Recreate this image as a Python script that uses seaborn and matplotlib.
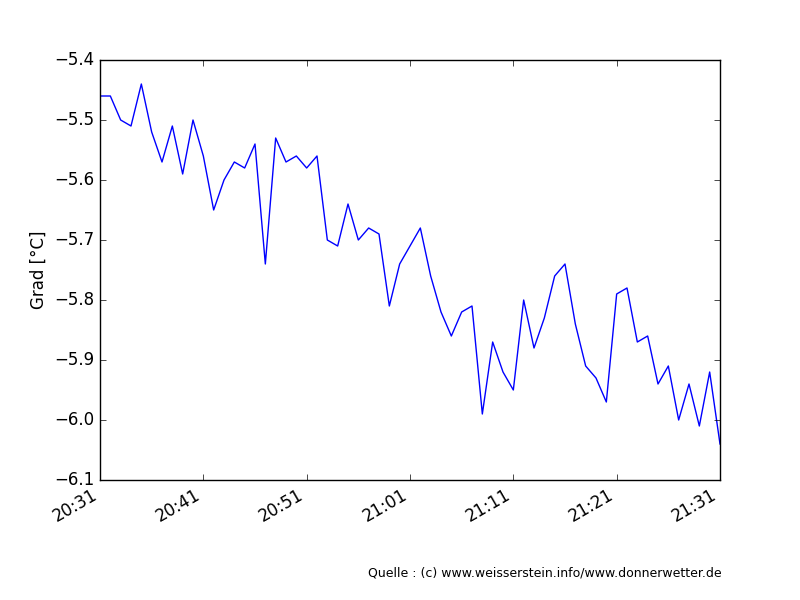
import matplotlib

matplotlib.use("Agg")
import matplotlib.dates as mdates
import matplotlib.pyplot as plt
import matplotlib.ticker as mticker
import pandas as pd
import seaborn as sns

# one reading per minute, 20:31 .. 21:31
start_time = "2015-01-20 20:31"
temperatures = [
    -5.46, -5.46, -5.50, -5.51, -5.44, -5.52, -5.57, -5.51, -5.59, -5.50,
    -5.56, -5.65, -5.60, -5.57, -5.58, -5.54, -5.74, -5.53, -5.57, -5.56,
    -5.58, -5.56, -5.70, -5.71, -5.64, -5.70, -5.68, -5.69, -5.81, -5.74,
    -5.71, -5.68, -5.76, -5.82, -5.86, -5.82, -5.81, -5.99, -5.87, -5.92,
    -5.95, -5.80, -5.88, -5.83, -5.76, -5.74, -5.84, -5.91, -5.93, -5.97,
    -5.79, -5.78, -5.87, -5.86, -5.94, -5.91, -6.00, -5.94, -6.01, -5.92,
    -6.04,
]
y_ticks = [-6.1, -6.0, -5.9, -5.8, -5.7, -5.6, -5.5, -5.4]
source_text = "Quelle : (c) www.weisserstein.info/www.donnerwetter.de"

times = pd.date_range(start_time, periods=len(temperatures), freq="min")
df = pd.DataFrame({"zeit": times, "temp": temperatures})

plt.style.use("classic")
fig, ax = plt.subplots(figsize=(8, 6), dpi=100)
fig.patch.set_facecolor("white")

sns.lineplot(data=df, x="zeit", y="temp", ax=ax, color="b", linewidth=1.0)

ax.set_xlim(times[0], times[-1])
ax.set_ylim(-6.1, -5.4)
ax.set_yticks(y_ticks)
ax.yaxis.set_major_formatter(
    mticker.FuncFormatter(lambda v, pos: f"{v:.1f}".replace("-", "\u2212"))
)
ax.xaxis.set_major_locator(mdates.MinuteLocator(byminute=[1, 11, 21, 31, 41, 51]))
ax.xaxis.set_major_formatter(mdates.DateFormatter("%H:%M"))
ax.set_xlabel("")
ax.set_ylabel("Grad [°C]")

fig.autofmt_xdate()
fig.subplots_adjust(left=0.125, right=0.9, top=0.9, bottom=0.2)
fig.text(0.46, 0.04, source_text, fontsize=9)

plt.savefig("out.png", dpi=100, facecolor="white")
plt.close()
